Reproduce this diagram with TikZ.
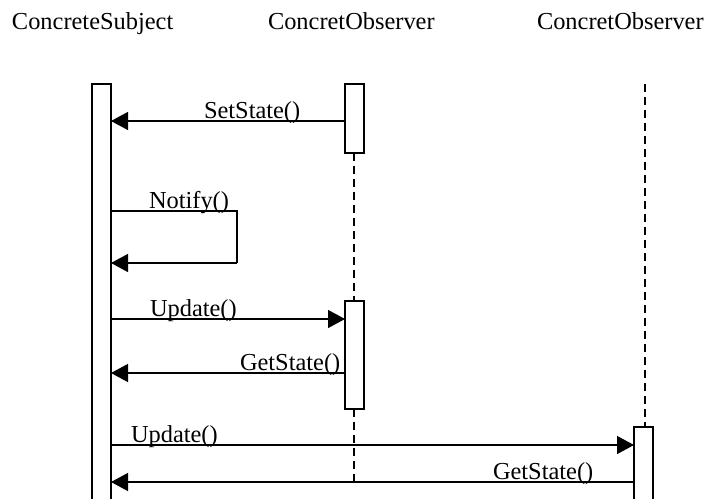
\documentclass[tikz,border=0pt]{standalone}
\usepackage{fontspec}
\setmainfont{Liberation Serif}
\usetikzlibrary{arrows.meta}
\begin{document}
\begin{tikzpicture}[x=1pt,y=-1pt,
  every node/.style={inner sep=0pt,outer sep=0pt,font=\fontsize{24.4}{29}\selectfont},
  bar/.style={draw,line width=1.4pt,fill=white,minimum width=19pt,rectangle},
  msg/.style={line width=1.4pt,-{Triangle[length=17pt,width=18pt]}},
  plain/.style={line width=1.4pt},
  life/.style={line width=1.6pt,dash pattern=on 8pt off 5pt},
  lbl/.style={anchor=base west}]
\useasboundingbox (0,0) rectangle (708,498);
% headers
\node[lbl] (h1) at (12,29) {ConcreteSubject};
\node[lbl] (h2) at (268,29) {ConcretObserver};
\node[lbl] (h3) at (537,29) {ConcretObserver};
% lifelines
\draw[life] (645,84) coordinate (o2top) -- (645,427);
\draw[life] (354,153) -- (354,301);
\draw[life] (354,409) -- (354,481) coordinate (o1end);
% bars
\node[bar,minimum height=436pt] (subj) at (101.5,302) {};
\node[bar,minimum height=69pt] (act1) at (354.5,118.5) {};
\node[bar,minimum height=108pt] (act2) at (354.5,355) {};
\node[bar,minimum height=93pt] (act3) at (643.5,473.5) {};
% messages
\draw[msg] (act1.west |- 0,121) -- (subj.east |- 0,121);
\node[lbl] (l1) at (204,118) {SetState()};
\draw[plain] (subj.east |- 0,211) -| (237,263) coordinate (nc);
\draw[msg] (nc) -- (subj.east |- 0,263);
\node[lbl] (l2) at (149,208) {Notify()};
\draw[msg] (subj.east |- 0,319) -- (act2.west |- 0,319);
\node[lbl] (l3) at (150,316) {Update()};
\draw[msg] (act2.west |- 0,373) -- (subj.east |- 0,373);
\node[lbl] (l4) at (240,370) {GetState()};
\draw[msg] (subj.east |- 0,445) -- (act3.west |- 0,445);
\node[lbl] (l5) at (131,442) {Update()};
\draw[msg] (act3.west |- 0,482) -- (subj.east |- 0,482);
\node[lbl] (l6) at (493,479) {GetState()};
\end{tikzpicture}
\end{document}
